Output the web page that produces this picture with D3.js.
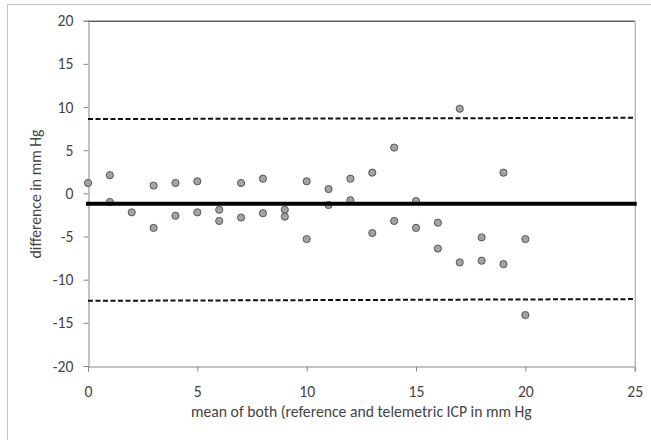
<!DOCTYPE html>
<html>
<head>
<meta charset="utf-8">
<script src="https://cdn.jsdelivr.net/npm/d3@7"></script>
<style>
  body { margin: 0; background: #fff; }
  text { font-family: Carlito, Lato, "Liberation Sans", sans-serif; fill: #444; }
</style>
</head>
<body>
<svg id="chart" width="651" height="440"></svg>
<script>
// mean of both methods (x) and difference (y)
const meanValues = [0, 1, 1, 2, 3, 3, 4, 4, 5, 5, 6, 6, 7, 7, 8, 8, 9, 9, 10, 10,
    11, 11, 12, 12, 13, 13, 14, 14, 15, 15, 16, 16, 17, 17, 18, 18, 19, 19, 20, 20];
const diffValues = [1.2, 2.1, -1.0, -2.2, 0.9, -4.0, 1.2, -2.6, 1.4, -2.2, -1.9, -3.2, 1.2, -2.8, 1.7, -2.3, -1.9, -2.7, 1.4, -5.3,
    0.5, -1.35, 1.7, -0.8, 2.4, -4.6, 5.3, -3.2, -0.9, -4.0, -3.4, -6.4, 9.8, -8.0, -5.1, -7.8, 2.4, -8.2, -5.3, -14.1];

const meanDiff = -1.2;
// limits of agreement (value at left end, value at right end)
const upperLimit = [8.6, 8.75];
const lowerLimit = [-12.45, -12.25];

const xTicks = [0, 5, 10, 15, 20, 25];
const yTicks = [-20, -15, -10, -5, 0, 5, 10, 15, 20];
const xTitle = 'mean of both (reference and telemetric ICP in mm Hg';
const yTitle = 'difference in mm Hg';

const svg = d3.select('#chart');
const margin = { left: 88, top: 20.7, right: 651 - 634.7, bottom: 440 - 366 };
const width = 651 - margin.left - margin.right;
const height = 440 - margin.top - margin.bottom;

// outer chart frame (only left & top edges visible)
svg.append('path')
    .attr('d', 'M7.5,440 V4.5 H651')
    .attr('fill', 'none')
    .attr('stroke', '#c4c4c4')
    .attr('stroke-width', 1);

const g = svg.append('g').attr('transform', `translate(${margin.left},${margin.top})`);

const x = d3.scaleLinear().domain([0, 25]).range([0, width]);
const y = d3.scaleLinear().domain([-20, 20]).range([height, 0]);

// size text so the x title spans about as wide as in the original (Calibri)
const probe = svg.append('text').style('font-size', '15px').text(xTitle);
const fontSize = 15 * 341 / probe.node().getComputedTextLength();
probe.remove();

// plot border top & right
g.append('line')
    .attr('x1', 0).attr('x2', width)
    .attr('y1', 0.5).attr('y2', 0.5)
    .attr('stroke', '#111').attr('stroke-width', 1);
g.append('line')
    .attr('x1', width + 0.5).attr('x2', width + 0.5)
    .attr('y1', 0).attr('y2', height)
    .attr('stroke', '#999').attr('stroke-width', 1);

// axes
const yAxis = g.append('g')
    .attr('transform', 'translate(0.5,0)')
    .call(d3.axisLeft(y).tickValues(yTicks).tickSize(5).tickPadding(10)
        .tickFormat(d => String(d)));
const xAxis = g.append('g')
    .attr('transform', `translate(0,${height + 0.5})`)
    .call(d3.axisBottom(x).tickValues(xTicks).tickSize(5).tickPadding(14)
        .tickFormat(d => String(d)));

[xAxis, yAxis].forEach(ax => {
    ax.select('.domain').attr('stroke', '#888');
    ax.selectAll('.tick line').attr('stroke', '#888');
    ax.selectAll('.tick text')
        .style('font-size', fontSize + 'px')
        .style('fill', '#444');
});

// limits of agreement
[upperLimit, lowerLimit].forEach(lim => {
    g.append('line')
        .attr('x1', x(0)).attr('x2', x(25))
        .attr('y1', y(lim[0])).attr('y2', y(lim[1]))
        .attr('stroke', '#111')
        .attr('stroke-width', 2)
        .attr('stroke-dasharray', '5,2.5');
});

// points
g.selectAll('circle.pt')
    .data(meanValues.map((m, i) => ({ m: m, d: diffValues[i] })))
    .enter().append('circle')
    .attr('class', 'pt')
    .attr('cx', d => x(d.m))
    .attr('cy', d => y(d.d))
    .attr('r', 3.6)
    .attr('fill', '#a3a3a3')
    .attr('stroke', '#4a4a4a')
    .attr('stroke-width', 0.9);

// mean difference line
g.append('line')
    .attr('x1', x(0)).attr('x2', x(25))
    .attr('y1', y(meanDiff)).attr('y2', y(meanDiff))
    .attr('stroke', '#000')
    .attr('stroke-width', 4)
    .attr('stroke-linecap', 'square');

// titles
svg.append('text')
    .attr('x', margin.left + width / 2)
    .attr('y', 417)
    .attr('text-anchor', 'middle')
    .style('font-size', fontSize + 'px')
    .text(xTitle);

svg.append('text')
    .attr('transform', `translate(41,194) rotate(-90)`)
    .attr('text-anchor', 'middle')
    .style('font-size', fontSize + 'px')
    .text(yTitle);
</script>
</body>
</html>
